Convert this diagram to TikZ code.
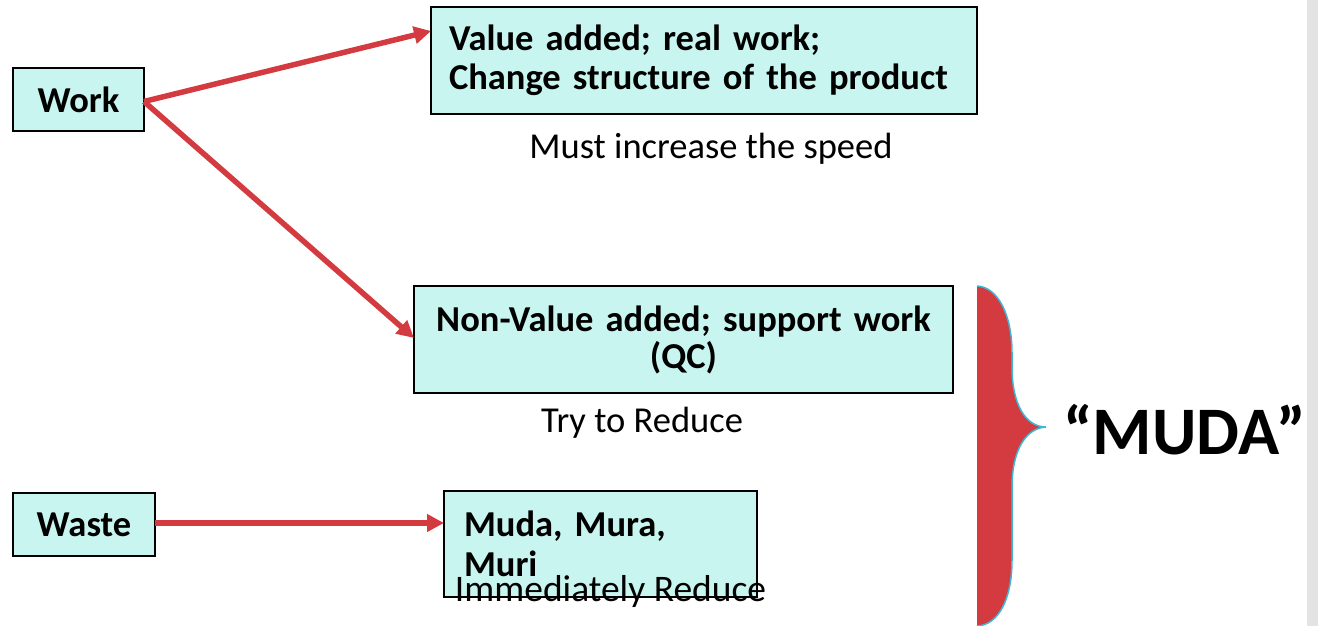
\documentclass[tikz,border=0pt]{standalone}
\usepackage{fontspec}
\setmainfont{Carlito}
\usetikzlibrary{arrows.meta}

\definecolor{boxcyan}{HTML}{C8F5EF}
\definecolor{arrowred}{HTML}{D43B40}
\definecolor{braceblue}{HTML}{3FB6D3}
\definecolor{bargray}{HTML}{E3E3E3}

\newcommand{\boxfont}{\fontsize{36.5}{39}\selectfont\bfseries}
\newcommand{\notefont}{\fontsize{36.5}{39}\selectfont}

\begin{document}
\begin{tikzpicture}[x=1pt, y=-1pt,
    box/.style = {draw, fill=boxcyan, line width=2pt, outer sep=0pt, font=\boxfont},
    note/.style = {anchor=base, inner sep=0pt, font=\notefont},
    arr/.style = {draw=arrowred, line width=5.5pt, -{Triangle[length=17pt, width=17pt]}}]
    \useasboundingbox (0,0) rectangle (1318,626);
    \fill[bargray] (1307,0) rectangle (1318,626);

    % Nodes
    \node[box, minimum width=131pt, minimum height=63pt] (work) at (78.5,99.5) {Work};
    \node[box, minimum width=142pt, minimum height=63pt] (waste) at (84,524.5) {Waste};
    \node[box, minimum width=546pt, minimum height=107pt, text width=510pt, inner xsep=18pt, align=left] (value) at (704,60.5) {Value added; real work;\\Change structure of the product};
    \node[box, minimum width=539pt, minimum height=107pt, text width=515pt, inner xsep=12pt, align=center, font=\fontsize{36.5}{37}\selectfont\bfseries] (nonvalue) at (683.5,339.5) {Non-Value added; support work\\(QC)};
    \node[box, minimum width=313pt, minimum height=106pt, text width=273pt, inner xsep=20pt, align=left, font=\fontsize{36.5}{40}\selectfont\bfseries] (muda) at (600.5,544) {Muda, Mura,\\Muri};

    \node[note] (speed) at (711,158) {Must increase the speed};
    \node[note] (tryreduce) at (642,432) {Try to Reduce};
    \node[note, font=\fontsize{37.5}{40}\selectfont] (nowreduce) at (610.5,601) {Immediately Reduce};

    % Arrows
    \draw[arr] ([yshift=-2pt]work.east) -- ([yshift=29.5pt]value.west);
    \draw[arr] ([yshift=-2pt]work.east) -- ([yshift=1.5pt]nonvalue.west);
    \draw[arr] ([yshift=1.5pt]waste.east) -- ([yshift=1.5pt]waste.east -| muda.west);

    % Brace
    \fill[arrowred] (977,286) .. controls (998,287) and (1012,315) .. (1012,353) -- (1012,367)
        .. controls (1012,405) and (1026,427) .. (1046,427)
        .. controls (1026,428) and (1012,450) .. (1012,487) -- (1012,560)
        .. controls (1012,600) and (998,625) .. (977,626) -- cycle;
    \draw[braceblue, line width=1.5pt] (977,286) .. controls (998,287) and (1012,315) .. (1012,353) -- (1012,367)
        .. controls (1012,405) and (1026,427) .. (1046,427)
        .. controls (1026,428) and (1012,450) .. (1012,487) -- (1012,560)
        .. controls (1012,600) and (998,625) .. (977,626);
    \node[anchor=base, inner sep=0pt, font=\fontsize{68}{72}\selectfont\bfseries] (muda-label) at (1184.5,454) {“MUDA”};
\end{tikzpicture}
\end{document}
